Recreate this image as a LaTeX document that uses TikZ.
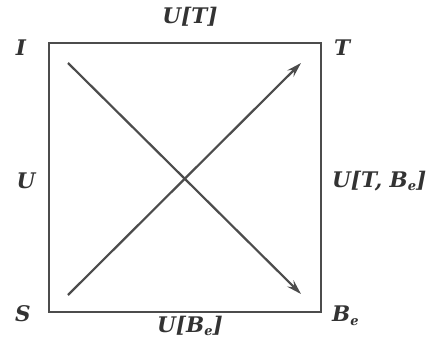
\documentclass[tikz,border=0pt]{standalone}
\usepackage{fontspec}
\setmainfont{DejaVu Serif}
\usetikzlibrary{arrows.meta}
\newcommand{\sbe}{\raisebox{-3.5pt}{\fontsize{13}{13}\selectfont e}}
\begin{document}
\begin{tikzpicture}[x=1pt,y=-1pt,
  lab/.style={font=\fontsize{21.5}{24}\selectfont\bfseries\itshape, text=black!80, inner sep=0pt},
  box/.style={draw=black!70, line width=2pt},
  diag/.style={draw=black!70, line width=2.2pt, -{Stealth[length=15pt,width=9pt,inset=5.5pt]}}]
\useasboundingbox (0,0) rectangle (426,345);
\draw[box] (49,43) rectangle (321,312);
\coordinate (a1) at (68,63);
\coordinate (b1) at (301,294);
\coordinate (a2) at (68,295);
\coordinate (b2) at (301,63);
\draw[diag] (a1) -- (b1);
\draw[diag] (a2) -- (b2);
\node[lab] (I) at (21,48) {I};
\node[lab] (T) at (342,48) {T};
\node[lab] (S) at (23,314) {S};
\node[lab, anchor=west] (Be) at (332,316) {B\sbe};
\node[lab] (U) at (26,181) {U};
\node[lab, anchor=west] (UTB) at (332,181) {U[T, B\sbe]};
\node[lab] (UT) at (190,17) {U[T]};
\node[lab] (UB) at (190,326) {U[B\sbe]};
\end{tikzpicture}
\end{document}
